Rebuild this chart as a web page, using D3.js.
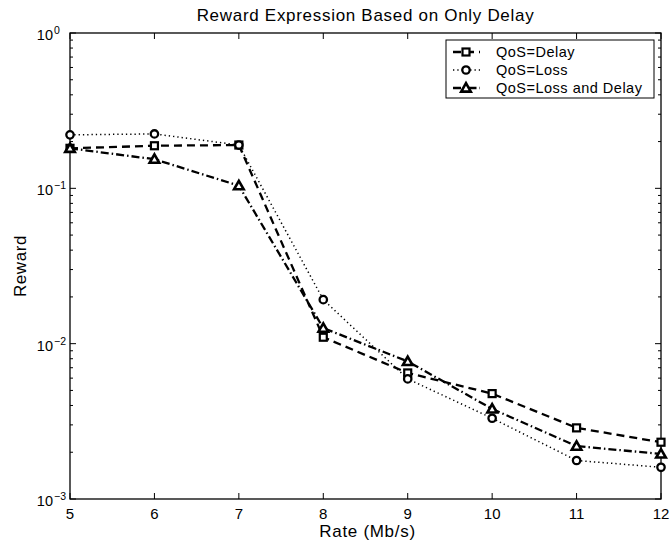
<!DOCTYPE html>
<html>
<head>
<meta charset="utf-8">
<script src="https://cdn.jsdelivr.net/npm/d3@7"></script>
<style>
  body { margin: 0; background: #fff; }
  text { font-family: "Liberation Sans", Arial, Helvetica, sans-serif; fill: #000; }
</style>
</head>
<body>
<div id="chart"></div>
<script>
// Values.
const rates = [5, 6, 7, 8, 9, 10, 11, 12];
const rewardDelay = [0.181, 0.188, 0.190, 0.0110, 0.00648, 0.00477, 0.00287, 0.00232];
const rewardLoss = [0.221, 0.224, 0.190, 0.0192, 0.00593, 0.00331, 0.00177, 0.00160];
const rewardLossDelay = [0.181, 0.154, 0.104, 0.0126, 0.00769, 0.00380, 0.00219, 0.00195];
const seriesNames = ["QoS=Delay", "QoS=Loss", "QoS=Loss and Delay"];
const yDecades = [1e-3, 1e-2, 1e-1, 1];
const yExponents = ["-3", "-2", "-1", "0"];

const width = 672, height = 548;
const margin = {top: 33, right: 11, bottom: 49, left: 70};

const x = d3.scaleLinear([5, 12], [margin.left, width - margin.right]);
const y = d3.scaleLog([1e-3, 1], [height - margin.bottom, margin.top]);

const svg = d3.select("#chart").append("svg")
    .attr("width", width)
    .attr("height", height);

// Minor log ticks (2..9 in each decade)
const minor = y.ticks().filter(v => !yDecades.some(d => Math.abs(d - v) < d * 1e-6));

const ticks = svg.append("g").attr("stroke", "#000").attr("stroke-width", 1);
const x0 = x.range()[0], x1 = x.range()[1];
const y0 = y.range()[0], y1 = y.range()[1];

// x ticks, bottom and top, pointing inward
ticks.selectAll(null).data(rates).join("line")
    .attr("x1", d => x(d)).attr("x2", d => x(d))
    .attr("y1", y0).attr("y2", y0 - 6);
ticks.selectAll(null).data(rates).join("line")
    .attr("x1", d => x(d)).attr("x2", d => x(d))
    .attr("y1", y1).attr("y2", y1 + 6);

// y major and minor ticks, left and right
for (const [vals, len] of [[yDecades, 6], [minor, 3]]) {
  ticks.selectAll(null).data(vals).join("line")
      .attr("x1", x0).attr("x2", x0 + len)
      .attr("y1", d => y(d)).attr("y2", d => y(d));
  ticks.selectAll(null).data(vals).join("line")
      .attr("x1", x1).attr("x2", x1 - len)
      .attr("y1", d => y(d)).attr("y2", d => y(d));
}

// axes box
svg.append("rect")
    .attr("x", x0).attr("y", y1)
    .attr("width", x1 - x0).attr("height", y0 - y1)
    .attr("fill", "none")
    .attr("stroke", "#000")
    .attr("stroke-width", 1.3);

// tick labels
svg.append("g")
    .attr("font-size", 15)
    .attr("text-anchor", "middle")
  .selectAll("text")
  .data(rates)
  .join("text")
    .attr("x", d => x(d))
    .attr("y", y0 + 20)
    .text(d => d);

const ylab = svg.append("g").attr("font-size", 14.5);
ylab.selectAll(null).data(yDecades).join("text")
    .attr("x", x0 - 17)
    .attr("y", d => y(d) + 7)
    .attr("text-anchor", "end")
    .text("10");
ylab.selectAll(null).data(yDecades).join("text")
    .attr("x", x0 - 16)
    .attr("y", d => y(d) + 1)
    .attr("font-size", 10.5)
    .text((d, i) => yExponents[i].replace("-", "\u2212"));

// titles
svg.append("text")
    .attr("x", (x0 + x1) / 2)
    .attr("y", 21)
    .attr("text-anchor", "middle")
    .attr("font-size", 17)
    .attr("letter-spacing", 0.7)
    .text("Reward Expression Based on Only Delay");

svg.append("text")
    .attr("x", (x0 + x1) / 2 + 2)
    .attr("y", 537)
    .attr("text-anchor", "middle")
    .attr("font-size", 17)
    .attr("letter-spacing", 0.7)
    .text("Rate (Mb/s)");

svg.append("text")
    .attr("transform", `translate(26,${(y0 + y1) / 2}) rotate(-90)`)
    .attr("text-anchor", "middle")
    .attr("font-size", 17)
    .attr("letter-spacing", 0.6)
    .text("Reward");

// series
const styles = [
  {values: rewardDelay, dash: "8,5", width: 2.3, marker: "square"},
  {values: rewardLoss, dash: "1.3,3", width: 1.5, marker: "circle"},
  {values: rewardLossDelay, dash: "8,3,1.5,3", width: 2.3, marker: "triangle"}
];

const line = d3.line().x((d, i) => x(rates[i])).y(d => y(d));

function drawMarker(g, type) {
  if (type === "square") {
    g.append("rect").attr("x", -3.5).attr("y", -3.5).attr("width", 7).attr("height", 7)
        .attr("fill", "#fff").attr("stroke", "#000").attr("stroke-width", 2.2);
  } else if (type === "circle") {
    g.append("circle").attr("r", 3.7)
        .attr("fill", "#fff").attr("stroke", "#000").attr("stroke-width", 2.3);
  } else {
    g.append("path").attr("d", "M0,-4.8L4.8,3.6L-4.8,3.6Z")
        .attr("fill", "#fff").attr("stroke", "#000").attr("stroke-width", 2.6)
        .attr("stroke-linejoin", "miter");
  }
}

for (const s of styles) {
  svg.append("path")
      .attr("d", line(s.values))
      .attr("fill", "none")
      .attr("stroke", "#000")
      .attr("stroke-width", s.width)
      .attr("stroke-dasharray", s.dash);
}
for (const s of styles) {
  svg.append("g").selectAll("g")
    .data(s.values)
    .join("g")
      .attr("transform", (d, i) => `translate(${x(rates[i])},${y(d)})`)
      .each(function () { drawMarker(d3.select(this), s.marker); });
}

// legend
const legend = svg.append("g");
legend.append("rect")
    .attr("x", 446).attr("y", 40)
    .attr("width", 208).attr("height", 58)
    .attr("fill", "#fff")
    .attr("stroke", "#000")
    .attr("stroke-width", 1);

styles.forEach((s, i) => {
  const cy = 52 + i * 18;
  legend.append("line")
      .attr("x1", 453).attr("x2", 480)
      .attr("y1", cy).attr("y2", cy)
      .attr("stroke", "#000")
      .attr("stroke-width", s.width)
      .attr("stroke-dasharray", s.dash);
  drawMarker(legend.append("g").attr("transform", `translate(466,${cy})`), s.marker);
  legend.append("text")
      .attr("x", 496)
      .attr("y", cy + 5)
      .attr("font-size", 14.5)
      .attr("letter-spacing", 0.5)
      .text(seriesNames[i]);
});
</script>
</body>
</html>
